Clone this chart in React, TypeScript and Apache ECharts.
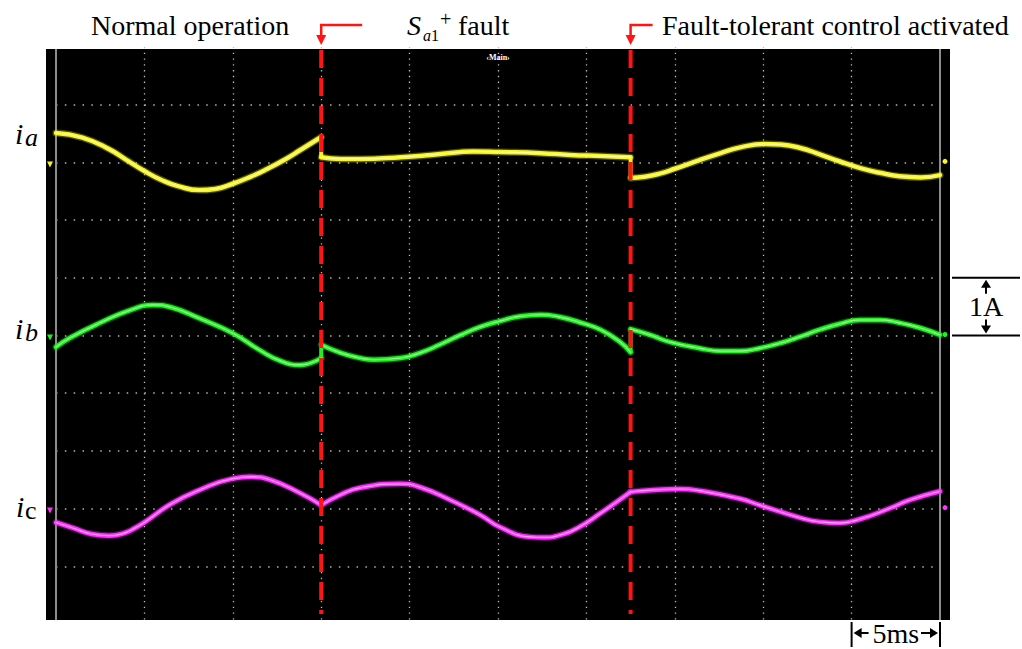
import React, { useEffect, useRef } from 'react';
import * as echarts from 'echarts';

const SERIF = '"Liberation Serif", "Times New Roman", Times, serif';

// Oscilloscope screen: 10 x 10 divisions, 5 ms/div horizontally, 1 A/div vertically
const timeRangeMs = [0, 50];
const timePerDivMs = 5;
const divRange = [0, 10];
const ampPerDiv = 1;

// Event instants (ms)
const eventTimesMs = [15, 32.5];

// Channel ground levels (divisions from the bottom of the screen)
const channelOffsetsDiv = [8, 5, 2];
const channelColors = ['#f6f524', '#1ff21f', '#ff33ff'];
const channelCoreColors = ['#ffffc4', '#c4ffc4', '#ffc8ff'];

// Phase currents: [time ms, current A]
const iaData: [number, number][] = [
  [0, 0.51], [1.5, 0.43], [3.0, 0.23], [4.0, 0.04], [5.0, -0.15], [6.0, -0.31], [6.9, -0.41], [8.1, -0.48],
  [9.0, -0.46], [10.0, -0.37], [11.0, -0.25], [11.9, -0.12], [13.0, 0.06], [13.8, 0.21], [15.0, 0.44],
  [15.0, 0.09], [16.1, 0.06], [17.2, 0.06], [19.5, 0.09], [21.2, 0.13], [22.9, 0.18], [23.6, 0.19],
  [25.1, 0.18], [27.4, 0.16], [29.1, 0.13], [30.8, 0.11], [32.5, 0.09],
  [32.5, -0.27], [33.3, -0.25], [34.2, -0.19], [35.0, -0.11], [36.4, 0.04], [37.6, 0.16], [38.7, 0.26],
  [40.1, 0.32], [41.0, 0.31], [42.1, 0.25], [43.2, 0.14], [44.3, 0.02], [45.5, -0.1], [46.6, -0.18],
  [47.7, -0.24], [48.9, -0.26], [50, -0.22],
];

const ibData: [number, number][] = [
  [0, -0.2], [0.8, -0.04], [2.5, 0.22], [4.2, 0.44], [5.5, 0.53], [6.5, 0.49], [8.1, 0.3],
  [10.0, 0.04], [11.5, -0.25], [12.7, -0.44], [13.8, -0.51], [15.0, -0.39],
  [15.0, -0.16], [16.1, -0.3], [17.2, -0.39], [18.0, -0.42], [19.5, -0.39], [20.6, -0.3], [21.7, -0.16],
  [22.9, 0.01], [24.0, 0.15], [25.1, 0.25], [26.2, 0.33], [27.4, 0.36], [28.5, 0.32], [29.6, 0.23],
  [30.8, 0.1], [31.9, -0.11], [32.5, -0.29],
  [32.5, 0.11], [33.6, 0.01], [34.7, -0.11], [36.4, -0.22], [37.6, -0.27], [38.7, -0.27], [39.8, -0.22],
  [41.0, -0.13], [42.1, -0.02], [43.2, 0.1], [44.3, 0.2], [45.5, 0.27], [46.6, 0.27], [47.7, 0.22],
  [48.9, 0.13], [50, 0.01],
];

const icData: [number, number][] = [
  [0, -0.24], [1.0, -0.34], [2.0, -0.44], [3.0, -0.47], [3.9, -0.42], [4.5, -0.33], [5.0, -0.24],
  [6.5, 0.08], [8.1, 0.32], [10.0, 0.52], [11.0, 0.55], [12.1, 0.5], [13.8, 0.27], [15.0, 0.06],
  [15.0, 0.06], [16.1, 0.24], [17.2, 0.36], [19.5, 0.43], [20.6, 0.37], [22.3, 0.15], [24.0, -0.11], [25.1, -0.32],
  [26.8, -0.49], [27.6, -0.5], [28.5, -0.46], [29.6, -0.32], [30.8, -0.08], [32.5, 0.29],
  [32.5, 0.29], [33.6, 0.32], [35.3, 0.34], [36.4, 0.31], [38.7, 0.17], [39.8, 0.06], [42.1, -0.16], [43.2, -0.23],
  [44.3, -0.25], [45.5, -0.18], [47.2, 0.01], [48.3, 0.15], [50, 0.3],
];

const channelData = [iaData, ibData, icData];

const RED = '#ff1414';

function txt(x: number, y: number, text: string, size: number, italic = false, align = 'left', fill = '#000', weight = 'normal') {
  return {
    type: 'text',
    z: 10,
    x,
    y,
    silent: true,
    style: {
      text,
      fill,
      fontSize: size,
      fontFamily: SERIF,
      fontStyle: italic ? 'italic' : 'normal',
      fontWeight: weight,
      align,
      textAlign: align,
      verticalAlign: 'middle',
      textVerticalAlign: 'middle',
    },
  };
}

// split a trace at the switching instants (two samples at the same time)
function splitSegments(data: [number, number][]) {
  const segs: [number, number][][] = [[]];
  data.forEach((pt, i) => {
    if (i > 0 && pt[0] === data[i - 1][0]) segs.push([]);
    segs[segs.length - 1].push(pt);
  });
  return segs;
}

function buildGraphics(chart: echarts.ECharts) {
  const p = (t: number, v: number) => chart.convertToPixel({ gridIndex: 0 }, [t, v]) as number[];
  const [xL, yB] = p(timeRangeMs[0], divRange[0]);
  const [xR, yT] = p(timeRangeMs[1], divRange[1]);
  const scrL = xL - 10;
  const scrR = xR + 10;
  const scrT = yT + 2;
  const scrB = yB - 4;
  const els: any[] = [];

  els.push({ type: 'rect', z: -1, silent: true, shape: { x: scrL, y: scrT, width: scrR - scrL, height: scrB - scrT }, style: { fill: '#000' } });
  [xL, xR].forEach((x) =>
    els.push({ type: 'line', z: 1, silent: true, shape: { x1: x, y1: scrT, x2: x, y2: scrB }, style: { stroke: '#8c8c8c', lineWidth: 2 } })
  );
  els.push(txt(p(25, 0)[0], scrT + 8, '‹Main›', 8, false, 'center', '#ffffff', 'bold'));

  channelOffsetsDiv.forEach((off, i) => {
    const yl = p(0, off)[1] + 2;
    els.push({ type: 'polygon', z: 3, silent: true, shape: { points: [[scrL + 1, yl - 3], [scrL + 7, yl - 3], [scrL + 4, yl + 3]] }, style: { fill: channelColors[i] } });
    const yr = p(timeRangeMs[1], off)[1] - 1;
    els.push({ type: 'circle', z: 3, silent: true, shape: { cx: scrR - 5, cy: yr, r: 2.5 }, style: { fill: channelColors[i] } });
  });

  eventTimesMs.forEach((t, i) => {
    const x = p(t, 0)[0];
    els.push({ type: 'line', z: 6, silent: true, shape: { x1: x, y1: scrT + 1, x2: x, y2: scrB - 6 }, style: { stroke: RED, lineWidth: 4, lineDash: [18, 10] } });
    const arm = i === 0 ? 41 : 22;
    els.push({ type: 'polyline', z: 6, silent: true, shape: { points: [[x + arm, 25], [x, 25], [x, 37]] }, style: { stroke: RED, lineWidth: 2.5, fill: null } });
    els.push({ type: 'polygon', z: 6, silent: true, shape: { points: [[x - 5, 35], [x + 5, 35], [x, 45]] }, style: { fill: RED } });
  });

  els.push(txt(91, 25.5, 'Normal operation', 28));
  els.push(txt(407, 25.5, 'S', 28, true));
  els.push(txt(423, 35, 'a', 16, true));
  els.push(txt(431, 35, '1', 16));
  els.push(txt(440, 19, '+', 20));
  els.push(txt(458, 25.5, 'fault', 28));
  els.push(txt(662, 25.5, 'Fault-tolerant control activated', 28));

  const labelY = channelOffsetsDiv.map((off) => p(0, off)[1]);
  els.push(txt(15, labelY[0] - 29, 'i', 30, true));
  els.push(txt(25, labelY[0] - 25, 'a', 26, true));
  els.push(txt(15, labelY[1] - 7, 'i', 30, true));
  els.push(txt(25, labelY[1] - 3, 'b', 26, true));
  els.push(txt(16, labelY[2] - 2, 'i', 30, true));
  els.push(txt(25, labelY[2] + 2, 'c', 26));

  const yA1 = p(0, channelOffsetsDiv[1] + ampPerDiv)[1];
  const yA0 = p(0, channelOffsetsDiv[1])[1];
  const bx = scrR + 36;
  [yA1, yA0].forEach((y) =>
    els.push({ type: 'line', z: 10, silent: true, shape: { x1: scrR + 2, y1: y, x2: 1020, y2: y }, style: { stroke: '#000', lineWidth: 2 } })
  );
  els.push({ type: 'line', z: 10, silent: true, shape: { x1: bx, y1: yA1 + 8, x2: bx, y2: yA1 + 16 }, style: { stroke: '#000', lineWidth: 2 } });
  els.push({ type: 'polygon', z: 10, silent: true, shape: { points: [[bx - 5, yA1 + 10], [bx + 5, yA1 + 10], [bx, yA1 + 2]] }, style: { fill: '#000' } });
  els.push({ type: 'line', z: 10, silent: true, shape: { x1: bx, y1: yA0 - 16, x2: bx, y2: yA0 - 8 }, style: { stroke: '#000', lineWidth: 2 } });
  els.push({ type: 'polygon', z: 10, silent: true, shape: { points: [[bx - 5, yA0 - 10], [bx + 5, yA0 - 10], [bx, yA0 - 2]] }, style: { fill: '#000' } });
  els.push(txt(bx, (yA0 + yA1) / 2, '1A', 28, false, 'center'));

  const x0 = p(timeRangeMs[1] - timePerDivMs, 0)[0];
  const x1 = p(timeRangeMs[1], 0)[0];
  const ym = scrB + 13;
  [x0, x1].forEach((x) =>
    els.push({ type: 'line', z: 10, silent: true, shape: { x1: x, y1: scrB + 2, x2: x, y2: scrB + 27 }, style: { stroke: '#000', lineWidth: 2 } })
  );
  els.push({ type: 'line', z: 10, silent: true, shape: { x1: x0 + 8, y1: ym, x2: x0 + 17, y2: ym }, style: { stroke: '#000', lineWidth: 2 } });
  els.push({ type: 'polygon', z: 10, silent: true, shape: { points: [[x0 + 2, ym], [x0 + 10, ym - 5], [x0 + 10, ym + 5]] }, style: { fill: '#000' } });
  els.push({ type: 'line', z: 10, silent: true, shape: { x1: x1 - 19, y1: ym, x2: x1 - 10, y2: ym }, style: { stroke: '#000', lineWidth: 2 } });
  els.push({ type: 'polygon', z: 10, silent: true, shape: { points: [[x1 - 2, ym], [x1 - 10, ym - 5], [x1 - 10, ym + 5]] }, style: { fill: '#000' } });
  els.push(txt((x0 + x1) / 2, ym + 0.5, '5ms', 28, false, 'center'));

  return els;
}

export default function App() {
  const ref = useRef<HTMLDivElement>(null);

  useEffect(() => {
    document.body.style.margin = '0';
    if (!ref.current) return;
    const chart = echarts.init(ref.current, undefined, { renderer: 'svg' });

    const series: any[] = [];
    const lineSeries = (pts: number[][], color: string, width: number, z: number, smooth: number | boolean, opacity = 1) => ({
      type: 'line',
      data: pts,
      symbol: 'none',
      showSymbol: false,
      smooth,
      silent: true,
      z,
      lineStyle: { color, width, opacity, cap: 'round', join: 'round' },
    });
    channelData.forEach((data, i) => {
      const segs = splitSegments(data).map((seg) => seg.map(([t, a]) => [t, a / ampPerDiv + channelOffsetsDiv[i]]));
      segs.forEach((seg, k) => {
        series.push(lineSeries(seg, channelColors[i], 7, 2, 0.5, 0.3));
        series.push(lineSeries(seg, channelColors[i], 4.5, 2, 0.5));
        series.push(lineSeries(seg, channelCoreColors[i], 1.2, 3, 0.5, 0.75));
        if (k < segs.length - 1) {
          const jump = [seg[seg.length - 1], segs[k + 1][0]];
          series.push(lineSeries(jump, channelColors[i], 4, 2, false));
        }
      });
    });

    chart.setOption({
      animation: false,
      backgroundColor: '#ffffff',
      grid: { left: 56, width: 884, top: 47, height: 577 },
      xAxis: {
        type: 'value',
        min: timeRangeMs[0],
        max: timeRangeMs[1],
        interval: timePerDivMs,
        axisLine: { show: false },
        axisTick: { show: false },
        axisLabel: { show: false },
        splitLine: {
          show: true,
          showMinLine: false,
          showMaxLine: false,
          lineStyle: { color: '#bdbdbd', width: 1.3, type: [1.3, 4.47] },
        },
      },
      yAxis: {
        type: 'value',
        min: divRange[0],
        max: divRange[1],
        interval: 1,
        axisLine: { show: false },
        axisTick: { show: false },
        axisLabel: { show: false },
        splitLine: {
          show: true,
          showMinLine: false,
          showMaxLine: false,
          lineStyle: { color: '#b4b4b4', width: 1.5, type: [1.5, 7.34] },
        },
      },
      series,
    });

    chart.setOption({ graphic: { elements: buildGraphics(chart) } });

    return () => chart.dispose();
  }, []);

  return <div ref={ref} style={{ width: 1022, height: 649 }} />;
}
